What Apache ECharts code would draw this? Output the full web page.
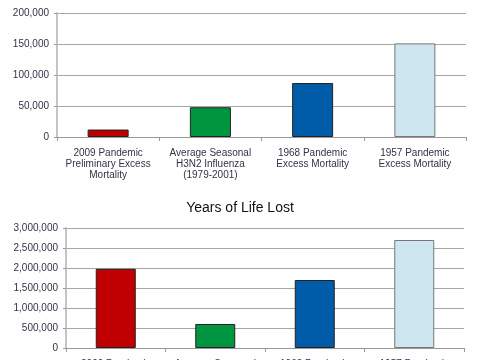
<!DOCTYPE html>
<html><head><meta charset="utf-8">
<script src="https://cdn.jsdelivr.net/npm/echarts@6/dist/echarts.min.js"></script>
<style>html,body{margin:0;padding:0;background:#fff}#c{width:480px;height:360px}</style>
</head><body><div id="c"></div>
<script>
const categories = [
  "2009 Pandemic\nPreliminary Excess\nMortality",
  "Average Seasonal\nH3N2 Influenza\n(1979-2001)",
  "1968 Pandemic\nExcess Mortality",
  "1957 Pandemic\nExcess Mortality"
];
const excessDeaths = [12000, 48000, 87000, 151000];
const yearsOfLifeLost = [1980000, 600000, 1700000, 2700000];
const barColors = ["#c00000", "#00963f", "#005ca8", "#cde6f0"];
const borderColors = ["#222", "#222", "#222", "#777"];
const title2 = "Years of Life Lost";

const txt = "#35304a";
const font = "Arial, 'Liberation Sans', sans-serif";

function mkData(vals) {
  return vals.map((v, i) => ({
    value: v,
    itemStyle: { color: barColors[i], borderColor: borderColors[i], borderWidth: 1 }
  }));
}
function xAxis(gi) {
  return {
    type: 'category', gridIndex: gi, data: categories,
    axisLine: { lineStyle: { color: '#999', width: 1 } },
    axisTick: { show: true, length: 4, lineStyle: { color: '#999' } },
    axisLabel: { interval: 0, color: txt, fontSize: 10, lineHeight: 11, fontFamily: font, margin: 11 }
  };
}
function yAxis(gi, max, interval) {
  return {
    type: 'value', gridIndex: gi, min: 0, max: max, interval: interval,
    axisLine: { show: true, lineStyle: { color: '#c4c4c4', width: 2 } },
    axisTick: { show: true, length: 3, lineStyle: { color: '#999' } },
    splitLine: { lineStyle: { color: '#a6a6a6', width: 1 } },
    axisLabel: {
      color: txt, fontSize: 10, fontFamily: font, margin: 8,
      formatter: v => v.toLocaleString('en-US')
    }
  };
}
const chart = echarts.init(document.getElementById('c'), null, { renderer: 'canvas' });
chart.setOption({
  animation: false,
  backgroundColor: '#fff',
  title: {
    text: title2, left: 'center', top: 196,
    textStyle: { fontSize: 14, fontWeight: 'normal', color: '#111', fontFamily: font }
  },
  grid: [
    { left: 57, right: 14, top: 13, height: 124, containLabel: false, outerBoundsMode: 'none' },
    { left: 66, right: 16, top: 228, height: 120, containLabel: false, outerBoundsMode: 'none' }
  ],
  xAxis: [xAxis(0), xAxis(1)],
  yAxis: [yAxis(0, 200000, 50000), yAxis(1, 3000000, 500000)],
  series: [
    { type: 'bar', xAxisIndex: 0, yAxisIndex: 0, barWidth: 41, data: mkData(excessDeaths) },
    { type: 'bar', xAxisIndex: 1, yAxisIndex: 1, barWidth: 40, data: mkData(yearsOfLifeLost) }
  ]
});
</script></body></html>
